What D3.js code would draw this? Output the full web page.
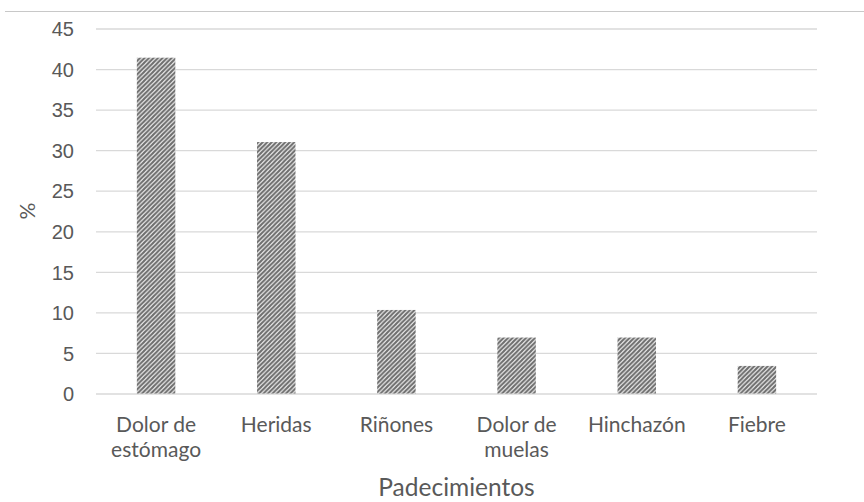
<!DOCTYPE html>
<html>
<head>
<meta charset="utf-8">
<script src="https://cdn.jsdelivr.net/npm/d3@7/dist/d3.min.js"></script>
<style>
  html, body { margin: 0; padding: 0; background: #fff; }
  svg { display: block; font-family: Lato, "Open Sans", sans-serif; }
</style>
</head>
<body>
<svg id="chart" width="864" height="502"></svg>
<script>
// Padecimientos reportados (%)
const categories = ["Dolor de\nestómago", "Heridas", "Riñones", "Dolor de\nmuelas", "Hinchazón", "Fiebre"];
const values = [41.4, 31.0, 10.3, 6.9, 6.9, 3.4];
const yTicks = [0, 5, 10, 15, 20, 25, 30, 35, 40, 45];
const xTitle = "Padecimientos";
const yTitle = "%";

const svg = d3.select("#chart");
const margin = { left: 96, right: 47, top: 28.5, bottom: 108.5 };
const W = 864, H = 502;

const x = d3.scaleBand()
  .domain(categories)
  .range([margin.left, W - margin.right])
  .paddingInner(0.68)
  .paddingOuter(0.34);

const y = d3.scaleLinear()
  .domain([0, 45])
  .range([H - margin.bottom, margin.top]);

// diagonal hatch fill for the bars
const defs = svg.append("defs");
const P = 4.5;
const pat = defs.append("pattern")
  .attr("id", "hatch")
  .attr("patternUnits", "userSpaceOnUse")
  .attr("width", P).attr("height", P);
pat.append("rect").attr("width", P).attr("height", P).attr("fill", "#fff");
pat.append("path")
  .attr("d", `M${-P/2},${P/2} l${P},${-P} M0,${P} l${P},${-P} M${P/2},${P*1.5} l${P},${-P}`)
  .attr("stroke", "#6e6e6e")
  .attr("stroke-width", 2.1);

// thin rule across the top of the frame
svg.append("line")
  .attr("x1", 5).attr("x2", W)
  .attr("y1", 11.5).attr("y2", 11.5)
  .attr("stroke", "#c8c8c8").attr("stroke-width", 1);

// horizontal gridlines + y labels
const yAxis = d3.axisLeft(y)
  .tickValues(yTicks)
  .tickSize(-(W - margin.left - margin.right))
  .tickPadding(22)
  .tickFormat(d3.format("d"));

const gy = svg.append("g")
  .attr("transform", `translate(${margin.left},0)`)
  .call(yAxis);
gy.select(".domain").remove();
gy.selectAll(".tick line")
  .attr("stroke", "#d9d9d9")
  .attr("stroke-width", 1.3);
gy.selectAll(".tick text")
  .attr("fill", "#595959")
  .attr("font-size", 20)
  .attr("dy", "0.36em");

// bars
svg.append("g").selectAll("rect")
  .data(values)
  .join("rect")
  .attr("x", (d, i) => x(categories[i]))
  .attr("width", x.bandwidth())
  .attr("y", d => y(d))
  .attr("height", d => y(0) - y(d))
  .attr("fill", "url(#hatch)");

// category labels (wrapped on "\n")
const labels = svg.append("g")
  .attr("fill", "#595959")
  .attr("font-size", 21)
  .attr("text-anchor", "middle");
categories.forEach(c => {
  const cx = x(c) + x.bandwidth() / 2;
  const t = labels.append("text");
  c.split("\n").forEach((line, k) => {
    t.append("tspan")
      .attr("x", cx)
      .attr("y", y(0) + 38.5 + k * 25)
      .text(line);
  });
});

// axis titles
svg.append("text")
  .attr("x", (margin.left + W - margin.right) / 2)
  .attr("y", 496)
  .attr("text-anchor", "middle")
  .attr("fill", "#595959")
  .attr("font-size", 24.5)
  .text(xTitle);

svg.append("text")
  .attr("transform", `translate(35,211) rotate(-90)`)
  .attr("text-anchor", "middle")
  .attr("fill", "#595959")
  .attr("font-size", 21)
  .text(yTitle);
</script>
</body>
</html>
